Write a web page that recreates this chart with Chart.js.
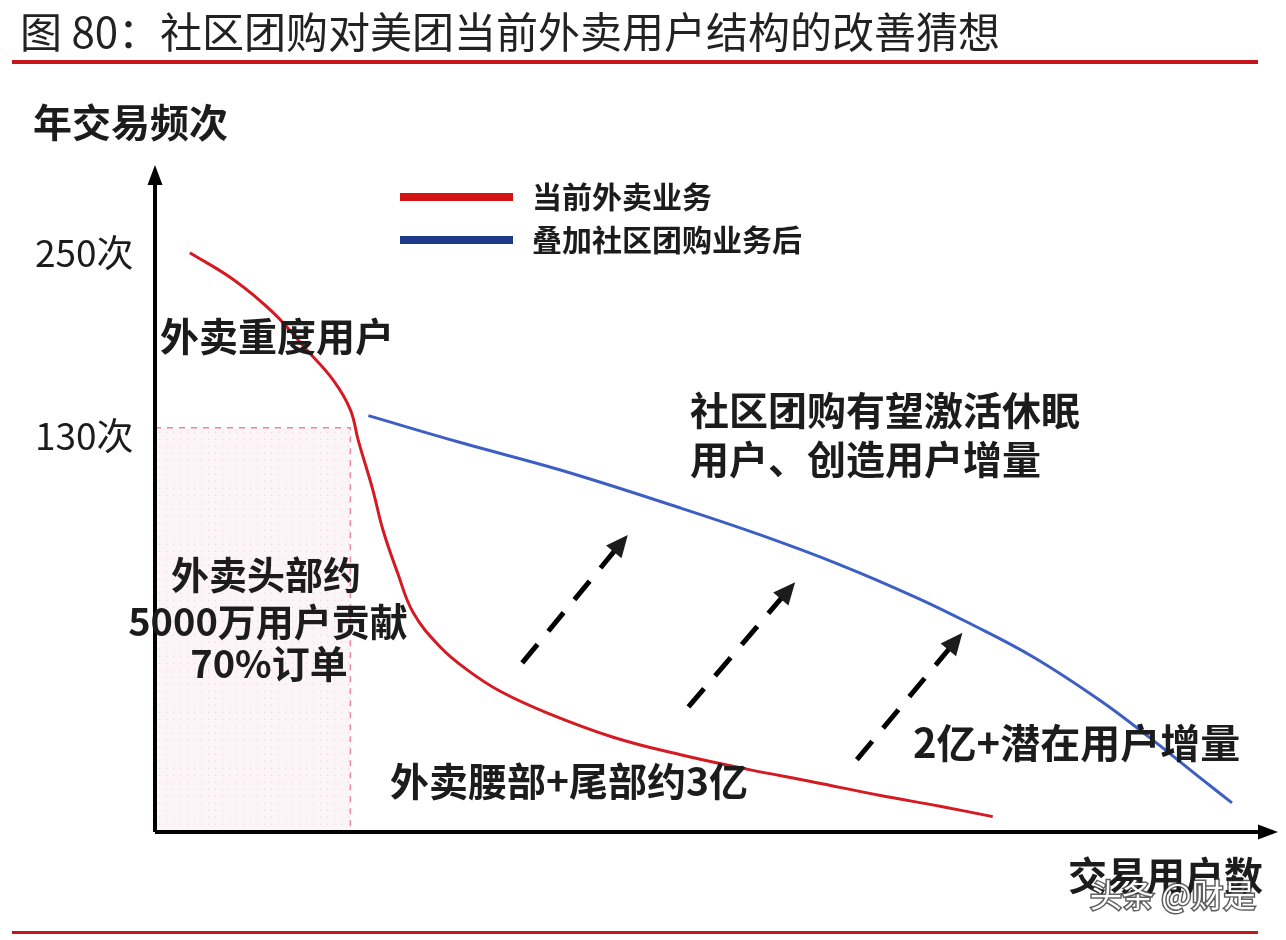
<!DOCTYPE html>
<html>
<head>
<meta charset="utf-8">
<script src="https://cdn.jsdelivr.net/npm/chart.js"></script>
<style>
  html, body { margin: 0; padding: 0; background: #fff; }
  canvas { display: block; }
</style>
</head>
<body>
<canvas id="c" width="1286" height="940"></canvas>
<script>
// 当前外卖业务
const redX = [3.1, 7.0, 10.5, 13.5, 15.9, 17.4, 18.1, 19.4, 20.3, 21.6, 23.0, 25.4, 27.8, 30.7, 34.9, 40.8, 46.8, 52.7, 58.6, 64.6, 69.9, 74.6];
const redY = [250, 226, 200, 174, 155, 139, 124, 103, 88.7, 75.6, 65.1, 57.3, 52.6, 48.6, 44.8, 40.9, 38.3, 36.3, 34.6, 32.9, 31.6, 30.4];
// 叠加社区团购业务后
const blueX = [19.0, 27.2, 36.1, 46.8, 53.9, 61.0, 67.9, 72.3, 78.2, 84.1, 88.6, 93.1, 95.9];
const blueY = [136, 123, 111, 96.3, 87.1, 77.9, 68.8, 62.9, 55.2, 47.0, 40.8, 35.1, 32.0];
// 纵轴刻度
const yTickValues = [250, 130];
const yTickLabels = ['250次', '130次'];
// 头部用户区域
const headX = [0, 17.4];
const headY = [28.7, 130];
// 虚线箭头
const arrowFromX = [32.7, 47.5, 62.5];
const arrowFromY = [54.0, 45.8, 37.6];
const arrowToX = [42.1, 57.0, 71.9];
const arrowToY = [87.1, 73.0, 60.4];

const FONT = '"Noto Sans CJK SC", "Noto Sans", sans-serif';
const INK = '#1c1c1c';

function text(ctx, s, x, y, size, bold, align) {
  ctx.font = (bold ? 'bold ' : '') + size + 'px ' + FONT;
  ctx.fillStyle = INK;
  ctx.textAlign = align || 'left';
  ctx.textBaseline = 'middle';
  ctx.fillText(s, x, y);
}

function arrowHead(ctx, x1, y1, x2, y2, len, wid) {
  const a = Math.atan2(y2 - y1, x2 - x1);
  ctx.beginPath();
  ctx.moveTo(x2, y2);
  ctx.lineTo(x2 - len * Math.cos(a) + wid / 2 * Math.sin(a), y2 - len * Math.sin(a) - wid / 2 * Math.cos(a));
  ctx.lineTo(x2 - len * Math.cos(a) - wid / 2 * Math.sin(a), y2 - len * Math.sin(a) + wid / 2 * Math.cos(a));
  ctx.closePath();
  ctx.fill();
}

const decor = {
  id: 'decor',
  beforeDatasetsDraw(chart) {
    const ctx = chart.ctx, xs = chart.scales.x, ys = chart.scales.y;
    const l = xs.getPixelForValue(headX[0]), r = xs.getPixelForValue(headX[1]);
    const t = ys.getPixelForValue(headY[1]), b = ys.getPixelForValue(headY[0]);
    ctx.save();
    ctx.fillStyle = 'rgba(248,238,241,0.6)';
    ctx.fillRect(l, t, r - l, b - t);
    ctx.fillStyle = 'rgba(220,150,170,0.35)';
    for (let yy = t + 4; yy < b; yy += 7) {
      for (let xx = l + 4; xx < r; xx += 7) ctx.fillRect(xx, yy, 1.2, 1.2);
    }
    ctx.strokeStyle = '#e48a9a';
    ctx.lineWidth = 1.5;
    ctx.setLineDash([6, 6]);
    ctx.beginPath();
    ctx.moveTo(l, t); ctx.lineTo(r, t); ctx.lineTo(r, b);
    ctx.stroke();
    ctx.restore();
  },
  afterDatasetsDraw(chart) {
    const ctx = chart.ctx, xs = chart.scales.x, ys = chart.scales.y, ca = chart.chartArea;
    ctx.save();
    // 坐标轴
    ctx.strokeStyle = '#000'; ctx.fillStyle = '#000'; ctx.lineWidth = 4;
    ctx.beginPath();
    ctx.moveTo(ca.left, ca.bottom); ctx.lineTo(ca.left, ca.top + 14);
    ctx.moveTo(ca.left, ca.bottom); ctx.lineTo(ca.right - 14, ca.bottom);
    ctx.stroke();
    arrowHead(ctx, ca.left, ca.bottom, ca.left, ca.top, 20, 15);
    arrowHead(ctx, ca.left, ca.bottom, ca.right, ca.bottom, 20, 15);

    // 纵轴刻度
    yTickValues.forEach((v, i) => text(ctx, yTickLabels[i], 35, ys.getPixelForValue(v) + (i ? 8 : 0), 37, false));

    // 虚线箭头
    arrowFromX.forEach((_, i) => {
      const x1 = xs.getPixelForValue(arrowFromX[i]), y1 = ys.getPixelForValue(arrowFromY[i]);
      const x2 = xs.getPixelForValue(arrowToX[i]), y2 = ys.getPixelForValue(arrowToY[i]);
      const a = Math.atan2(y2 - y1, x2 - x1);
      ctx.lineWidth = 5;
      ctx.setLineDash([24, 17]);
      ctx.beginPath();
      ctx.moveTo(x1, y1);
      ctx.lineTo(x2 - 16 * Math.cos(a), y2 - 16 * Math.sin(a));
      ctx.stroke();
      ctx.setLineDash([]);
      arrowHead(ctx, x1, y1, x2, y2, 22, 20);
    });

    // 图例
    const ds = chart.data.datasets;
    const legendColors = ['#d41414', '#1d3a8a'];
    [197, 240].forEach((y, i) => {
      ctx.fillStyle = legendColors[i];
      ctx.fillRect(400, y - 4, 113, 8);
      text(ctx, ds[i].label, 532, y, 30, true);
    });

    // 文字标注
    text(ctx, '年交易频次', 33, 122, 39, true);
    text(ctx, '外卖重度用户', 160, 336, 39, true);
    text(ctx, '外卖头部约', 266, 575, 38, true, 'center');
    text(ctx, '5000万用户贡献', 268, 622, 38, true, 'center');
    text(ctx, '70%订单', 269, 664, 38, true, 'center');
    text(ctx, '社区团购有望激活休眠', 690, 410, 39, true);
    text(ctx, '用户、创造用户增量', 690, 459, 39, true);
    text(ctx, '外卖腰部+尾部约3亿', 390, 781, 39, true);
    text(ctx, '2亿+潜在用户增量', 913, 743, 40, true);
    text(ctx, '交易用户数', 1068, 875, 39, true);

    // 标题与分隔线
    ctx.font = '42px ' + FONT;
    ctx.fillStyle = '#222'; ctx.textAlign = 'left'; ctx.textBaseline = 'middle';
    ctx.fillText('图 80：社区团购对美团当前外卖用户结构的改善猜想', 20, 32);
    ctx.fillStyle = '#c4161c';
    ctx.fillRect(12, 60, 1246, 4);
    ctx.fillRect(12, 931, 1246, 3);

    // 水印
    ctx.font = '32px ' + FONT;
    ctx.lineWidth = 3;
    ctx.strokeStyle = 'rgba(40,40,40,0.75)';
    ctx.strokeText('头条 @财是', 1090, 895);
    ctx.fillStyle = '#fff';
    ctx.fillText('头条 @财是', 1090, 895);
    ctx.restore();
  }
};

const toPoints = (xs, ys) => xs.map((x, i) => ({ x: x, y: ys[i] }));

new Chart(document.getElementById('c'), {
  type: 'line',
  data: {
    datasets: [
      {
        label: '当前外卖业务',
        data: toPoints(redX, redY),
        borderColor: '#d41a22',
        borderWidth: 3,
        pointRadius: 0,
        tension: 0.4
      },
      {
        label: '叠加社区团购业务后',
        data: toPoints(blueX, blueY),
        borderColor: '#3d5fc4',
        borderWidth: 3,
        pointRadius: 0,
        tension: 0.4
      }
    ]
  },
  options: {
    responsive: false,
    animation: false,
    layout: { padding: { left: 155, top: 165, right: 8, bottom: 108 } },
    plugins: { legend: { display: false }, tooltip: { enabled: false } },
    scales: {
      x: { type: 'linear', min: 0, max: 100, display: false },
      y: { type: 'logarithmic', min: 28.7, max: 347, display: false }
    }
  },
  plugins: [decor]
});
</script>
</body>
</html>
